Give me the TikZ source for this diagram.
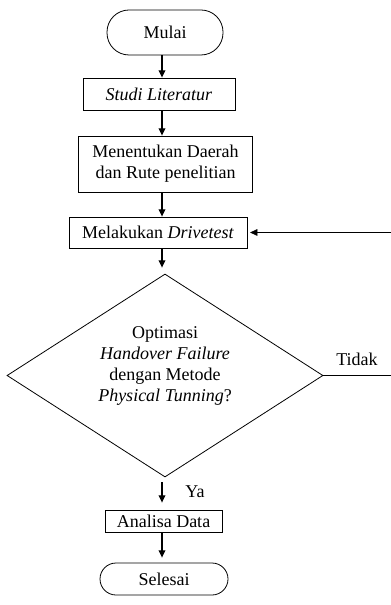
\documentclass[tikz,border=0pt]{standalone}
\usepackage{fontspec}
\setmainfont{Liberation Serif}
\usetikzlibrary{shapes.geometric,arrows.meta}
\begin{document}
\begin{tikzpicture}[x=0.75pt,y=0.75pt,yscale=-1,xscale=1,
  every node/.style={font=\fontsize{13.5}{15.75}\selectfont},
  box/.style={draw,line width=0.6pt,inner sep=0pt,align=center},
  term/.style={box,rounded corners=#1},
  arr/.style={line width=0.9pt,-{Triangle[length=5.5pt,width=5pt]}},
  line/.style={line width=0.6pt}]
\useasboundingbox (0,0) rectangle (390,605);
\coordinate (axis) at (162,0);
\node [term=16.5pt,minimum width=87pt,minimum height=33.75pt] (mulai) at (165,32.5) {Mulai};
\node [box,minimum width=114pt,minimum height=24pt] (studi) at (159,94) {\textit{Studi Literatur}};
\node [box,minimum width=130pt,minimum height=42pt] (rute) at (165.5,164) {Menentukan Daerah\\dan Rute penelitian};
\node [box,minimum width=133.5pt,minimum height=23.25pt] (drive) at (158,232.5) {Melakukan \textit{Drivetest}};
\node [box,diamond,minimum width=237pt,minimum height=152.25pt] (cek) at (165,375.5) {};
\node [align=center,inner sep=0pt] (cekteks) at (165,366) {Optimasi\\\textit{Handover Failure}\\dengan Metode\\\textit{Physical Tunning}?};
\node [box,minimum width=87.75pt,minimum height=16.5pt] (analisa) at (163.5,521) {Analisa Data};
\node [term=12pt,minimum width=96pt,minimum height=24pt] (selesai) at (164,579) {Selesai};
% alur utama
\draw [arr] (mulai.south -| axis) -- (studi.north -| axis);
\draw [arr] (studi.south -| axis) -- (rute.north -| axis);
\draw [arr] (rute.south -| axis) -- (drive.north -| axis);
\draw [arr,shorten >=4.5pt] (drive.south -| axis) -- (cek.north -| axis);
\draw [arr,shorten <=3.75pt,shorten >=5.25pt] (cek.south -| axis) -- (analisa.north -| axis);
\draw [arr,shorten >=3.75pt] (analisa.south -| axis) -- (selesai.north -| axis);
% umpan balik
\coordinate (fbbot) at (392,375.5);
\coordinate (fbtop) at (392,232.5);
\draw [line] (cek.east) -- (fbbot) -- (fbtop);
\draw [arr,line width=0.6pt,shorten >=2pt] (fbtop) -- (drive.east);
\node (tidak) at (357,359) {Tidak};
\node (ya) at (195,492) {Ya};
\end{tikzpicture}
\end{document}
